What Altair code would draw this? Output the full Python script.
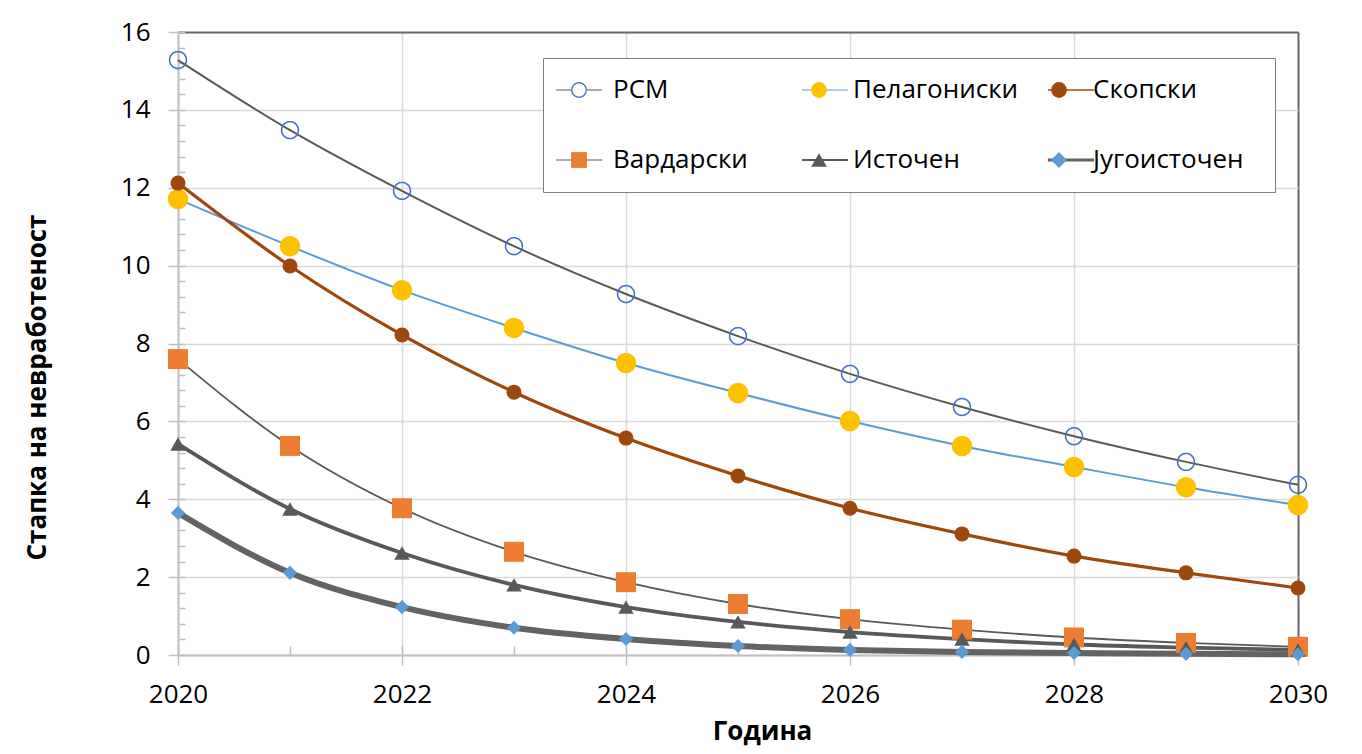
import json
import math
import altair as alt
import pandas as pd

# ---------------- data ----------------
YEARS = [2020, 2021, 2022, 2023, 2024, 2025, 2026, 2027, 2028, 2029, 2030]
SERIES = ["РСМ", "Пелагониски", "Скопски", "Вардарски", "Источен", "Југоисточен"]

RSM = [15.28, 13.48, 11.92, 10.50, 9.27, 8.19, 7.22, 6.37, 5.62, 4.96, 4.37]
PELAGONISKI = [11.71, 10.50, 9.37, 8.40, 7.50, 6.73, 6.01, 5.37, 4.83, 4.31, 3.85]
SKOPSKI = [12.12, 9.99, 8.22, 6.75, 5.57, 4.60, 3.77, 3.11, 2.54, 2.11, 1.72]
VARDARSKI = [7.60, 5.37, 3.77, 2.65, 1.87, 1.31, 0.92, 0.65, 0.45, 0.31, 0.21]
ISTOCHEN = [5.42, 3.75, 2.62, 1.80, 1.23, 0.85, 0.59, 0.41, 0.27, 0.19, 0.13]
JUGOISTOCHEN = [3.65, 2.11, 1.23, 0.70, 0.41, 0.23, 0.13, 0.08, 0.05, 0.03, 0.02]

Y_TICKS = [0, 2, 4, 6, 8, 10, 12, 14, 16]
X_TICKS = [2020, 2022, 2024, 2026, 2028, 2030]

VALUES = [RSM, PELAGONISKI, SKOPSKI, VARDARSKI, ISTOCHEN, JUGOISTOCHEN]
rows = []
for name, vals in zip(SERIES, VALUES):
    for yr, v in zip(YEARS, vals):
        rows.append({"year": yr, "value": v, "series": name})
df = pd.DataFrame(rows)

# ---------------- styles ----------------
FONT = "Open Sans"
FS = 26
LINE_COLORS = ["#595959", "#5B9BD5", "#9E480E", "#595959", "#595959", "#636363"]
LINE_WIDTHS = [2, 2, 3.2, 1.8, 3.8, 6]
MARKER_FILLS = ["#4472C4", "#FFC000", "#9E480E", "#ED7D31", "#595959", "#5B9BD5"]
THRESH = [0.5, 1.5, 2.5, 3.5, 4.5]


def ring(outer, inner, n=40):
    pts_o = [(outer * math.cos(2 * math.pi * k / n), outer * math.sin(2 * math.pi * k / n)) for k in range(n)]
    pts_i = [(inner * math.cos(-2 * math.pi * k / n), inner * math.sin(-2 * math.pi * k / n)) for k in range(n)]
    p = "M" + "L".join(f"{x:.3f},{y:.3f}" for x, y in pts_o) + "Z"
    p += "M" + "L".join(f"{x:.3f},{y:.3f}" for x, y in pts_i) + "Z"
    return p


RING = ring(1.0, 0.83)
MARKER_SHAPES = [RING, "circle", "circle", "square", "triangle-up", "diamond"]
MARKER_SIZES = [340, 420, 225, 400, 240, 200]


def bar(h):
    return f"M-4.6,-{h}H4.6V{h}H-4.6Z"


LEGEND_LINE_PATHS = [
    "M-4.6,-0.1H-1.6V0.1H-4.6Z M1.6,-0.1H4.6V0.1H1.6Z",
    bar(0.1), bar(0.16), bar(0.1), bar(0.19), bar(0.3),
]

W, H = 1120, 623
MINOR_Y = [round(i * 0.4, 1) for i in range(41)]

idx_expr = f"indexof({json.dumps(SERIES, ensure_ascii=False)}, datum.series)"

legend_common = dict(
    orient="none", legendX=365, legendY=26, direction="horizontal", columns=3,
    title=None, labelFont=FONT, labelFontSize=FS, labelLimit=400,
    padding=19, rowPadding=44, columnPadding=23,
    gridAlign="all", symbolStrokeWidth=0, symbolOpacity=1,
    symbolOffset=4, labelOffset=21,
)

leg_lines = alt.Legend(
    **legend_common, symbolSize=100,
    labelOpacity=0, fillColor="white", strokeColor="#7F7F7F",
)
leg_marks = alt.Legend(
    **legend_common, symbolSize=250, labelColor="#000000",
)

x_scale = alt.Scale(domain=[2020, 2030], nice=False, zero=False)
y_scale = alt.Scale(domain=[0, 16], nice=False)

lines = alt.Chart(df).transform_calculate(idx=idx_expr).mark_line(
    interpolate="monotone"
).encode(
    x=alt.X("year:Q", scale=x_scale, axis=alt.Axis(
        values=X_TICKS, format="d", title="Година", tickSize=10, tickColor="#BFBFBF",
        tickWidth=1.5, domainColor="#BFBFBF", domainWidth=2,
        labelFont=FONT, labelFontSize=FS, labelColor="#000000", labelPadding=16,
        labelFlush=False, labelOverlap=False,
        grid=True,
        gridColor={"condition": {"test": "datum.value === 2030", "value": "#666666"}, "value": "#D9D9D9"},
        gridWidth={"condition": {"test": "datum.value === 2030", "value": 2}, "value": 1.5},
        titleFont=FONT, titleFontSize=FS, titleFontWeight="bold", titleColor="#000000",
        titleX=584, titleY=76, titleBaseline="middle", titleAlign="center",
    )),
    y=alt.Y("value:Q", scale=y_scale, axis=alt.Axis(
        values=Y_TICKS, title="Стапка на невработеност", tickSize=10, tickColor="#BFBFBF",
        tickWidth=1.5, domainColor="#BFBFBF", domainWidth=2,
        labelFont=FONT, labelFontSize=FS, labelColor="#000000", labelPadding=18,
        labelFlush=False, labelOverlap=False,
        grid=True,
        gridColor={"condition": {"test": "datum.value === 16", "value": "#666666"}, "value": "#D9D9D9"},
        gridWidth={"condition": {"test": "datum.value === 16", "value": 2}, "value": 1.5},
        titleFont=FONT, titleFontSize=FS, titleFontWeight="bold", titleColor="#000000",
        titleAngle=270, titleX=-141, titleY=355, titleBaseline="middle", titleAlign="center",
    )),
    color=alt.Color("series:N", scale=alt.Scale(domain=SERIES, range=LINE_COLORS), legend=None),
    strokeWidth=alt.StrokeWidth("idx:Q", scale=alt.Scale(type="threshold", domain=THRESH, range=LINE_WIDTHS), legend=None),
    order="year:Q",
)

legend_layer = alt.Chart(df).mark_point(filled=True, opacity=0).encode(
    x=alt.X("year:Q", scale=x_scale, axis=None),
    y=alt.Y("value:Q", scale=y_scale, axis=None),
    fill=alt.Fill("series:N", scale=alt.Scale(domain=SERIES, range=LINE_COLORS), legend=leg_lines),
    shape=alt.Shape("series:N", scale=alt.Scale(domain=SERIES, range=LEGEND_LINE_PATHS), legend=leg_lines),
)

points = alt.Chart(df).transform_calculate(idx=idx_expr).mark_point(
    filled=True, opacity=1, strokeWidth=0
).encode(
    x=alt.X("year:Q", scale=x_scale, axis=alt.Axis(
        orient="top", offset=-H, values=YEARS, tickSize=9, tickColor="#BFBFBF", tickWidth=1.5,
        labels=False, domain=False, grid=False, title=None,
    )),
    y=alt.Y("value:Q", scale=y_scale, axis=alt.Axis(
        orient="right", offset=-W, values=MINOR_Y, tickSize=7, tickColor="#BFBFBF", tickWidth=1.5,
        labels=False, domain=False, grid=False, title=None,
    )),
    fill=alt.Fill("series:N", scale=alt.Scale(domain=SERIES, range=MARKER_FILLS), legend=leg_marks),
    shape=alt.Shape("series:N", scale=alt.Scale(domain=SERIES, range=MARKER_SHAPES), legend=leg_marks),
    size=alt.Size("idx:Q", scale=alt.Scale(type="threshold", domain=THRESH, range=MARKER_SIZES), legend=None),
)

chart = alt.layer(lines, legend_layer, points).resolve_scale(
    fill="independent", shape="independent"
).resolve_axis(
    x="independent", y="independent"
).properties(
    width=W, height=H,
    autosize=alt.AutoSizeParams(type="none"),
    padding={"left": 170, "top": 24, "right": 56, "bottom": 91},
    background="white",
).configure_view(stroke=None)

chart.save("out.html", embed_options={"renderer": "svg", "actions": False})
